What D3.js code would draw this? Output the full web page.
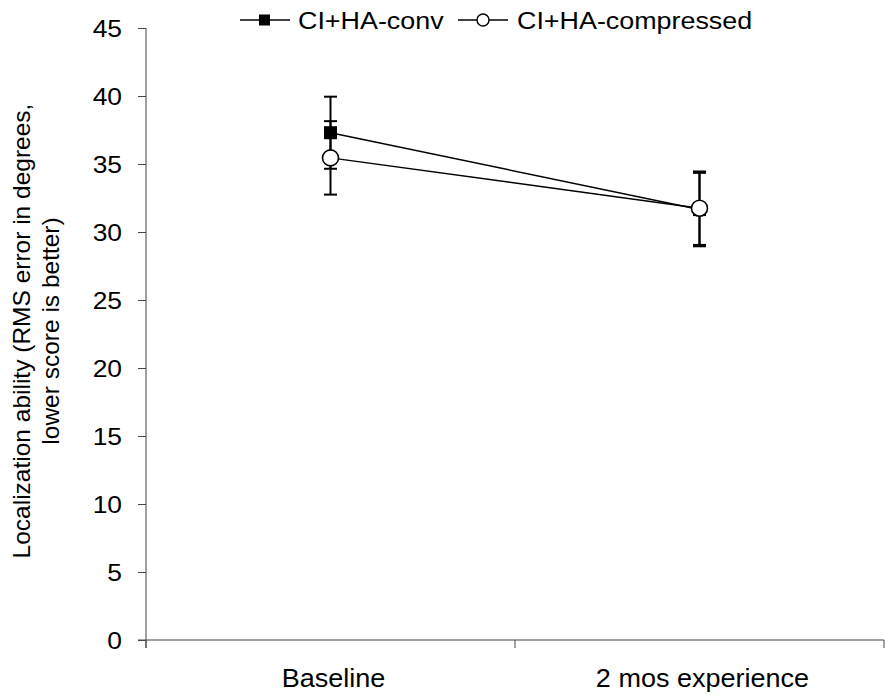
<!DOCTYPE html>
<html>
<head>
<meta charset="utf-8">
<script src="https://cdn.jsdelivr.net/npm/d3@7"></script>
<style>
  body { margin: 0; background: #fff; }
  svg { font-family: Arial, "Liberation Sans", sans-serif; }
</style>
</head>
<body>
<div class="chart"></div>
<script>
// data
var categories = ["Baseline", "2 mos experience"];
var convMean = [37.3, 31.65];
var convErr = [2.65, 2.7];
var compMean = [35.45, 31.75];
var compErr = [2.7, 2.7];
var yTicks = [0, 5, 10, 15, 20, 25, 30, 35, 40, 45];
var seriesNames = ["CI+HA-conv", "CI+HA-compressed"];

// setup
var W = 885, H = 696;
var margin = {top: 28, right: 1, bottom: 56, left: 146},
    w = W - margin.left - margin.right,
    h = H - margin.top - margin.bottom;

// the original text is a bit wider than plain Arial
var stretch = 1.1;

var svg = d3.select(".chart")
    .append("svg")
    .attr("width", W)
    .attr("height", H)
  .append("g")
    .attr("transform", "translate(" + margin.left + "," + margin.top + ")");

var xScale = d3.scaleBand().domain(categories).range([0, w]);
var yScale = d3.scaleLinear().domain([0, 45]).range([h, 0]);

var axisColor = "#444";

// y-axis
var yAxis = svg.append("g")
    .attr("class", "y-axis")
    .call(d3.axisLeft(yScale).tickValues(yTicks).tickSize(8).tickPadding(0));
yAxis.select(".domain").attr("stroke", axisColor).attr("d", "M0,0V" + (h + 8));
yAxis.selectAll(".tick line").attr("stroke", axisColor);
yAxis.selectAll(".tick text")
    .attr("fill", "#000")
    .attr("font-size", 24)
    .attr("x", null)
    .attr("dy", "0.35em")
    .attr("transform", "translate(-24,0) scale(" + stretch + ",1)");

// x-axis, ticks at band edges
var xAxis = svg.append("g")
    .attr("class", "x-axis")
    .attr("transform", "translate(0," + h + ")");
xAxis.append("line")
    .attr("x1", -8).attr("x2", w)
    .attr("stroke", axisColor);
var edges = [0].concat(categories.map(function(c) { return xScale(c) + xScale.bandwidth(); }));
xAxis.selectAll(".xtick")
    .data(edges)
  .enter().append("line")
    .attr("class", "xtick")
    .attr("x1", function(d) { return d; })
    .attr("x2", function(d) { return d; })
    .attr("y1", 0).attr("y2", 8)
    .attr("stroke", axisColor);
xAxis.selectAll(".xlabel")
    .data(categories)
  .enter().append("text")
    .attr("class", "xlabel")
    .attr("transform", function(d) {
      return "translate(" + (xScale(d) + xScale.bandwidth() / 2 + 3) + ",47) scale(1.06,1)";
    })
    .attr("text-anchor", "middle")
    .attr("font-size", 25.5)
    .text(function(d) { return d; });

// y-axis title, two lines
var yTitle = svg.append("text")
    .attr("transform", "translate(" + (-116) + "," + (h / 2 - 3) + ") rotate(-90)")
    .attr("text-anchor", "middle")
    .attr("font-size", 24.5);
yTitle.append("tspan").attr("x", 0).attr("y", 0).text("Localization ability (RMS error in degrees,");
yTitle.append("tspan").attr("x", 0).attr("y", 29).text("lower score is better)");

var cx = function(d, i) { return xScale(categories[i]) + xScale.bandwidth() / 2; };

// error bars
function errorBars(means, errs, cls) {
  var g = svg.append("g").attr("class", cls);
  means.forEach(function(m, i) {
    var x = cx(m, i);
    g.append("line")
      .attr("x1", x).attr("x2", x)
      .attr("y1", yScale(m + errs[i])).attr("y2", yScale(m - errs[i]))
      .attr("stroke", "#000").attr("stroke-width", 2);
    [m + errs[i], m - errs[i]].forEach(function(v) {
      g.append("line")
        .attr("x1", x - 6.5).attr("x2", x + 6.5)
        .attr("y1", yScale(v)).attr("y2", yScale(v))
        .attr("stroke", "#000").attr("stroke-width", 2);
    });
  });
}
errorBars(convMean, convErr, "err-conv");
errorBars(compMean, compErr, "err-comp");

// lines
var line = d3.line()
    .x(function(d, i) { return cx(d, i); })
    .y(function(d) { return yScale(d); });

[convMean, compMean].forEach(function(s) {
  svg.append("path")
    .datum(s)
    .attr("d", line)
    .attr("fill", "none")
    .attr("stroke", "#000")
    .attr("stroke-width", 1.5);
});

// markers
svg.selectAll(".sq")
    .data(convMean)
  .enter().append("rect")
    .attr("class", "sq")
    .attr("x", function(d, i) { return cx(d, i) - 6.5; })
    .attr("y", function(d) { return yScale(d) - 6.5; })
    .attr("width", 13).attr("height", 13)
    .attr("fill", "#000");

svg.selectAll(".circ")
    .data(compMean)
  .enter().append("circle")
    .attr("class", "circ")
    .attr("cx", cx)
    .attr("cy", function(d) { return yScale(d); })
    .attr("r", 8)
    .attr("fill", "#fff")
    .attr("stroke", "#000")
    .attr("stroke-width", 1.6);

// legend
var legend = d3.select("svg").append("g").attr("class", "legend");
var lg1 = legend.append("g").attr("transform", "translate(240,20)");
lg1.append("line").attr("x1", 0).attr("x2", 50).attr("stroke", "#000").attr("stroke-width", 1.6);
lg1.append("rect").attr("x", 19).attr("y", -5.5).attr("width", 11).attr("height", 11).attr("fill", "#000");
lg1.append("text")
    .attr("transform", "translate(58,9) scale(1.12,1)")
    .attr("font-size", 24).text(seriesNames[0]);

var lg2 = legend.append("g").attr("transform", "translate(458,20)");
lg2.append("line").attr("x1", 0).attr("x2", 50).attr("stroke", "#000").attr("stroke-width", 1.6);
lg2.append("circle").attr("cx", 25).attr("cy", 0).attr("r", 6).attr("fill", "#fff").attr("stroke", "#000").attr("stroke-width", 1.4);
lg2.append("text")
    .attr("transform", "translate(59,9) scale(1.12,1)")
    .attr("font-size", 24).text(seriesNames[1]);
</script>
</body>
</html>
